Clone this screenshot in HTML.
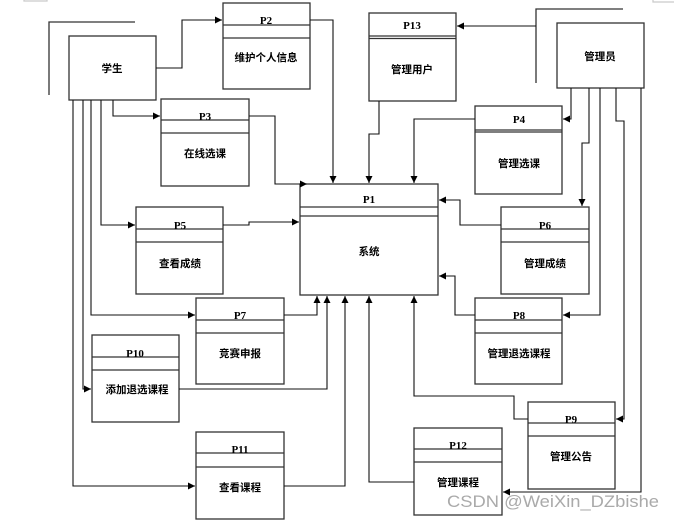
<!DOCTYPE html>
<html><head><meta charset="utf-8"><style>
html,body{margin:0;padding:0;background:#fff;}
svg{display:block;}
text{font-family:"Liberation Serif","Noto Serif CJK SC",serif;font-size:11px;font-weight:bold;fill:#000;text-anchor:middle;}
.t{font-family:"Liberation Sans","Noto Sans CJK SC",sans-serif;font-size:10.5px;}
</style></head><body>
<svg width="674" height="521" viewBox="0 0 674 521" xmlns="http://www.w3.org/2000/svg">
<defs><marker id="a" viewBox="0 0 10 10" refX="10" refY="5" markerWidth="7" markerHeight="7" orient="auto" markerUnits="userSpaceOnUse"><path d="M0,0L10,5L0,10z" fill="#000"/></marker></defs>
<g fill="none" stroke="#333" stroke-width="1.3">
<rect x="24" y="-1" width="23" height="2" stroke="#ccc"/>
<rect x="653" y="-1" width="30" height="3" stroke="#ccc"/>
<polyline points="135,22 49,22 49,95"/>
<polyline points="623,9 536,9 536,83"/>
<rect x="69" y="36" width="87" height="64"/>
<rect x="557" y="23" width="87" height="65"/>
<rect x="300" y="184" width="138" height="111"/><line x1="300" y1="207" x2="438" y2="207"/><line x1="300" y1="216" x2="438" y2="216"/>
<rect x="223" y="3" width="87" height="86"/><line x1="223" y1="25" x2="310" y2="25"/><line x1="223" y1="38" x2="310" y2="38"/>
<rect x="161" y="99" width="88" height="87"/><line x1="161" y1="120" x2="249" y2="120"/><line x1="161" y1="133" x2="249" y2="133"/>
<rect x="136" y="207" width="87" height="87"/><line x1="136" y1="229" x2="223" y2="229"/><line x1="136" y1="242" x2="223" y2="242"/>
<rect x="196" y="298" width="88" height="86"/><line x1="196" y1="320" x2="284" y2="320"/><line x1="196" y1="333" x2="284" y2="333"/>
<rect x="92" y="335" width="87" height="87"/><line x1="92" y1="357" x2="179" y2="357"/><line x1="92" y1="370" x2="179" y2="370"/>
<rect x="196" y="432" width="88" height="87"/><line x1="196" y1="453" x2="284" y2="453"/><line x1="196" y1="467" x2="284" y2="467"/>
<rect x="369" y="13" width="87" height="88"/><line x1="369" y1="36" x2="456" y2="36"/><line x1="369" y1="38.5" x2="456" y2="38.5"/>
<rect x="475" y="106" width="87" height="88"/><line x1="475" y1="130" x2="562" y2="130"/><line x1="475" y1="132" x2="562" y2="132"/>
<rect x="501" y="207" width="88" height="87"/><line x1="501" y1="229" x2="589" y2="229"/><line x1="501" y1="242" x2="589" y2="242"/>
<rect x="475" y="298" width="87" height="86"/><line x1="475" y1="320" x2="562" y2="320"/><line x1="475" y1="333" x2="562" y2="333"/>
<rect x="528" y="402" width="87" height="87"/><line x1="528" y1="423" x2="615" y2="423"/><line x1="528" y1="436" x2="615" y2="436"/>
<rect x="414" y="428" width="88" height="87"/><line x1="414" y1="449" x2="502" y2="449"/><line x1="414" y1="462" x2="502" y2="462"/>
</g>
<g fill="none" stroke="#111" stroke-width="1.1" marker-end="url(#a)">
<polyline points="156,68 182,68 182,20 222,20"/>
<polyline points="310,20 333,20 333,183"/>
<polyline points="113,100 113,116 160,116"/>
<polyline points="249,116 275,116 275,184 307,184"/>
<polyline points="101,100 101,225 135,225"/>
<polyline points="223,225 249,225 249,222 299,222"/>
<polyline points="91,100 91,315 195,315"/>
<polyline points="83,100 83,389 91,389"/>
<polyline points="73,100 73,486 195,486"/>
<polyline points="284,315 317,315 317,296"/>
<polyline points="179,389 327,389 327,296"/>
<polyline points="284,486 345,486 345,296"/>
<polyline points="414,482 369,482 369,296"/>
<polyline points="528,419 514,419 514,396 414,396 414,296"/>
<polyline points="475,315 455,315 455,276 439,276"/>
<polyline points="501,225 460,225 460,200 439,200"/>
<polyline points="475,119 414,119 414,183"/>
<polyline points="379,101 379,134 369,134 369,183"/>
<polyline points="536,26 457,26"/>
<polyline points="571,88 571,119 563,119"/>
<polyline points="589,88 589,143 582,143 582,206"/>
<polyline points="600,88 600,315 563,315"/>
<polyline points="616,88 616,121 624,121 624,419 616,419"/>
<polyline points="641,88 641,492 503,492"/>
</g>
<text x="112" y="72" class="t">学生</text>
<text x="600" y="60" class="t">管理员</text>
<text x="369" y="203">P1</text><text x="369" y="255" class="t">系统</text>
<text x="266" y="24">P2</text><text x="266" y="61" class="t">维护个人信息</text>
<text x="205" y="120">P3</text><text x="205" y="157" class="t">在线选课</text>
<text x="180" y="229">P5</text><text x="180" y="267" class="t">查看成绩</text>
<text x="240" y="319">P7</text><text x="240" y="357" class="t">竞赛申报</text>
<text x="135" y="357">P10</text><text x="137" y="393" class="t">添加退选课程</text>
<text x="240" y="453">P11</text><text x="240" y="491" class="t">查看课程</text>
<text x="412" y="29">P13</text><text x="412" y="73" class="t">管理用户</text>
<text x="519" y="123">P4</text><text x="519" y="167" class="t">管理选课</text>
<text x="545" y="229">P6</text><text x="545" y="267" class="t">管理成绩</text>
<text x="519" y="319">P8</text><text x="519" y="357" class="t">管理退选课程</text>
<text x="571" y="423">P9</text><text x="571" y="460" class="t">管理公告</text>
<text x="458" y="449">P12</text><text x="458" y="486" class="t">管理课程</text>
<text x="447" y="507" textLength="212" lengthAdjust="spacingAndGlyphs" style="text-anchor:start;font-family:'Liberation Sans',sans-serif;font-weight:normal;font-size:17px;fill:#aaa;">CSDN @WeiXin_DZbishe</text>
</svg>
</body></html>
